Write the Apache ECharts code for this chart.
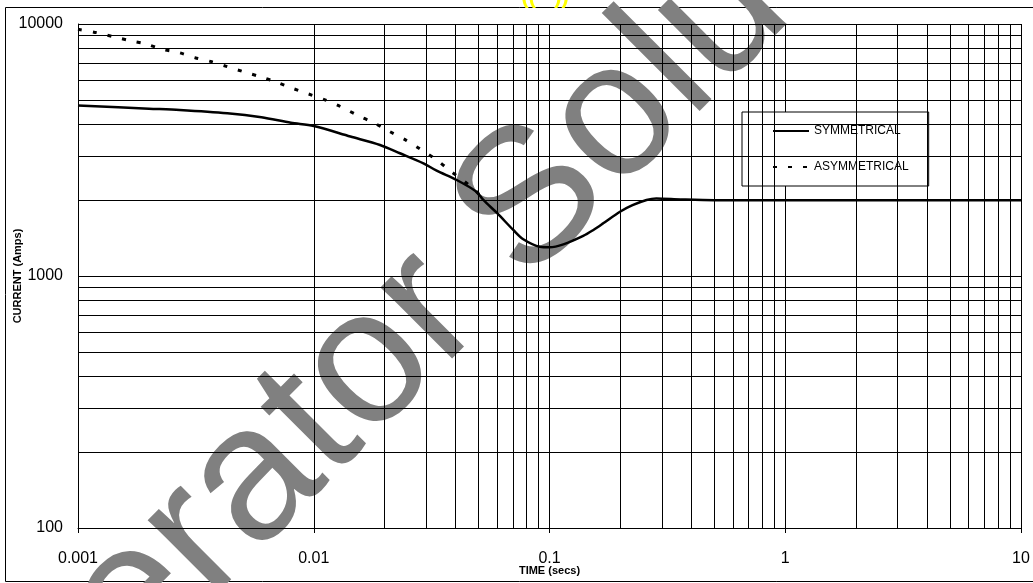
<!DOCTYPE html>
<html>
<head>
<meta charset="utf-8">
<script src="https://cdn.jsdelivr.net/npm/echarts@6/dist/echarts.min.js"></script>
<style>
  html, body { margin: 0; padding: 0; background: #fff; }
  #chart { width: 1033px; height: 583px; }
</style>
</head>
<body>
<div id="chart"></div>
<script>
// Fault current decay of a generator: [time (s), current (A)]
const symmetrical = [
  [0.001, 4750], [0.002, 4615], [0.0027, 4560], [0.0043, 4425], [0.006, 4265],
  [0.008, 4055], [0.01, 3935], [0.0143, 3575], [0.0191, 3311], [0.0232, 3070],
  [0.0292, 2800], [0.0332, 2618], [0.0404, 2404], [0.049, 2160], [0.0524, 2003],
  [0.06, 1775], [0.0702, 1523], [0.0774, 1399], [0.0911, 1306], [0.1, 1300],
  [0.1145, 1335], [0.139, 1442], [0.1535, 1523], [0.169, 1618], [0.199, 1799],
  [0.225, 1910], [0.258, 2003], [0.284, 2031], [0.359, 2014], [0.5, 2000], [10, 2000]
];
const asymmetrical = [
  [0.001, 9530], [0.0012, 9240], [0.00141, 8900], [0.00166, 8590], [0.00194, 8330],
  [0.00228, 7940], [0.00268, 7700], [0.00314, 7350], [0.00369, 7080], [0.0043, 6770],
  [0.00502, 6470], [0.00592, 6180], [0.00692, 5890], [0.00811, 5560], [0.00948, 5280],
  [0.01116, 5000], [0.013, 4700], [0.0152, 4360], [0.0179, 4060], [0.0208, 3760],
  [0.0245, 3470], [0.0284, 3180], [0.0329, 2910], [0.0378, 2620], [0.0434, 2380],
  [0.0478, 2210], [0.053, 2000]
];

// Axis labels, one per decade
const xTickLabels = ['0.001', '0.01', '0.1', '1', '10'];
const yTickLabels = ['100', '1000', '10000'];

// Intermediate grid lines inside each decade
const xMinorGrid = [
  0.002, 0.003, 0.004, 0.005, 0.006, 0.007, 0.008, 0.009,
  0.02, 0.03, 0.04, 0.05, 0.06, 0.07, 0.08, 0.09,
  0.2, 0.3, 0.4, 0.5, 0.6, 0.7, 0.8, 0.9,
  2, 3, 4, 5, 6, 7, 8, 9
];
const yMinorGrid = [
  200, 300, 400, 500, 600, 700, 800, 900,
  2000, 3000, 4000, 5000, 6000, 7000, 8000, 9000
];

const FONT = '"Liberation Sans", Arial, sans-serif';
const chart = echarts.init(document.getElementById('chart'), null, { renderer: 'canvas' });

function decadeLabel(labels, base) {
  return function (v) {
    const i = Math.round(Math.log10(v)) - base;
    return labels[i] !== undefined ? labels[i] : '';
  };
}

chart.setOption({
  backgroundColor: '#fff',
  animation: false,
  textStyle: { fontFamily: FONT },
  graphic: [
    {
      type: 'rect', z: -2, silent: true,
      shape: { x: 5.5, y: 7.5, width: 1040, height: 574 },
      style: { fill: 'none', stroke: '#000', lineWidth: 1 }
    },
    {
      type: 'text', z: -1, silent: true,
      x: 443, y: 293, rotation: 45 * Math.PI / 180,
      style: {
        text: 'Generator Solutions',
        font: '191px ' + FONT,
        fill: '#808080',
        align: 'center',
        verticalAlign: 'middle'
      }
    },
    {
      type: 'text', z: -1, silent: true,
      x: 545, y: 8,
      style: {
        text: '((   ))',
        font: 'bold 22px ' + FONT,
        fill: '#ffff00',
        align: 'center',
        verticalAlign: 'bottom'
      }
    }
  ],
  grid: { left: 78, right: 12, top: 24, bottom: 55, outerBoundsMode: 'none', containLabel: false },
  legend: {
    data: ['SYMMETRICAL', 'ASYMMETRICAL'],
    orient: 'vertical',
    left: 742, top: 112,
    itemWidth: 36, itemHeight: 14, itemGap: 24,
    padding: [13, 20, 13, 30],
    backgroundColor: '#fff',
    borderColor: '#000', borderWidth: 1, borderRadius: 0,
    selectedMode: false,
    itemStyle: { opacity: 0 },
    textStyle: { fontFamily: FONT, fontSize: 12, color: '#000' }
  },
  xAxis: {
    type: 'log', logBase: 10, min: 0.001, max: 10, interval: 1,
    name: 'TIME (secs)', nameLocation: 'middle', nameGap: 37, nameMoveOverlap: false,
    nameTextStyle: { fontFamily: FONT, fontSize: 11, fontWeight: 'bold', color: '#000' },
    axisLine: { show: true, lineStyle: { color: '#000', width: 1 } },
    axisTick: { show: true, length: 5, lineStyle: { color: '#000' } },
    axisLabel: {
      margin: 23, fontFamily: FONT, fontSize: 16, color: '#000',
      formatter: decadeLabel(xTickLabels, -3)
    },
    splitLine: { show: true, lineStyle: { color: '#000', width: 1 } }
  },
  yAxis: {
    type: 'log', logBase: 10, min: 100, max: 10000, interval: 1,
    name: 'CURRENT (Amps)', nameLocation: 'middle', nameGap: 55, nameMoveOverlap: false,
    nameTextStyle: { fontFamily: FONT, fontSize: 11, fontWeight: 'bold', color: '#000' },
    axisLine: { show: true, lineStyle: { color: '#000', width: 1 } },
    axisTick: { show: false },
    axisLabel: {
      margin: 15, fontFamily: FONT, fontSize: 16, color: '#000',
      formatter: decadeLabel(yTickLabels, 2)
    },
    splitLine: { show: true, lineStyle: { color: '#000', width: 1 } }
  },
  series: [
    {
      name: 'grid', type: 'line', z: 1, silent: true,
      data: [], symbol: 'none',
      markLine: {
        silent: true, animation: false,
        symbol: ['none', 'none'],
        label: { show: false },
        emphasis: { disabled: true },
        lineStyle: { color: '#000', width: 1, type: 'solid' },
        data: xMinorGrid.map(v => ({ xAxis: v })).concat(yMinorGrid.map(v => ({ yAxis: v })))
      }
    },
    {
      name: 'ASYMMETRICAL', type: 'line', z: 3,
      data: asymmetrical, symbol: 'none', smooth: 0.3,
      lineStyle: { color: '#000', width: 3, type: [4, 11], cap: 'butt' },
      itemStyle: { color: '#000' }
    },
    {
      name: 'SYMMETRICAL', type: 'line', z: 4,
      data: symmetrical, symbol: 'none', smooth: 0.3,
      lineStyle: { color: '#000', width: 2.5, type: 'solid' },
      itemStyle: { color: '#000' }
    }
  ]
});
</script>
</body>
</html>
